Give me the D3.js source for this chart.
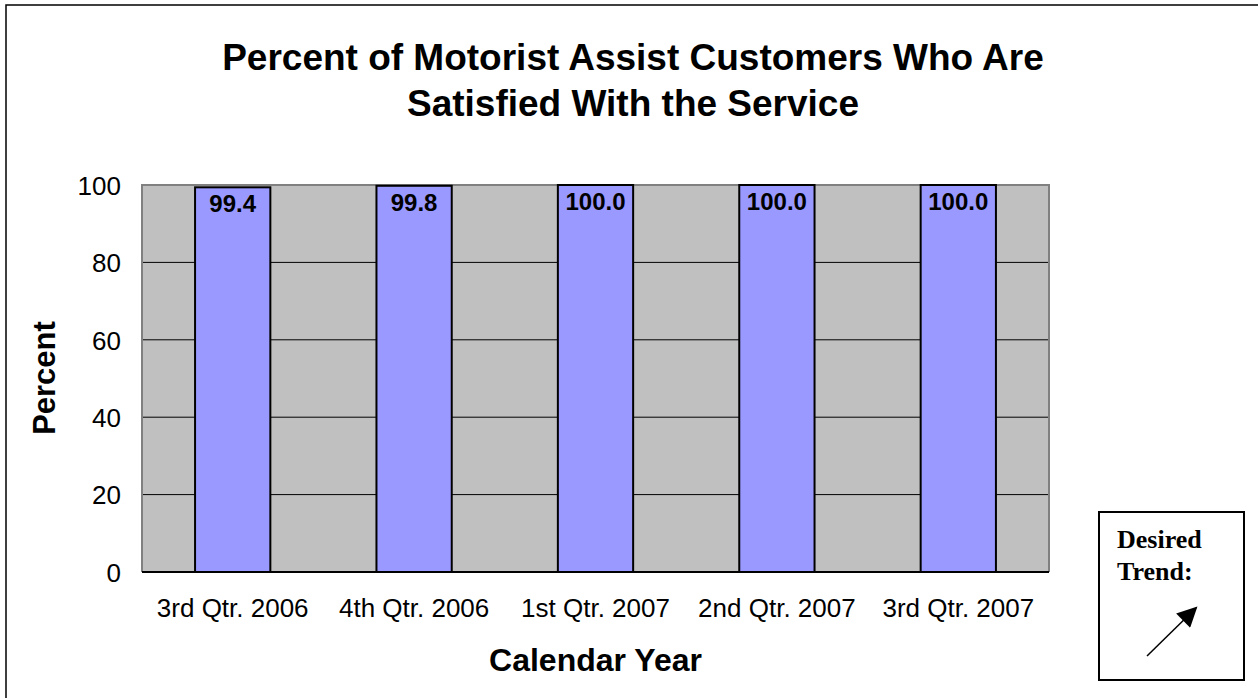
<!DOCTYPE html>
<head>
  <meta charset="utf-8">
  <script src="https://d3js.org/d3.v7.min.js"></script>
  <style>
    body {
      margin: 0;
      background-color: #fff;
    }
    text {
      font-family: Arial, "Liberation Sans", sans-serif;
      fill: #000;
    }
    .trend text {
      font-family: "Times New Roman", "Liberation Serif", serif;
      font-weight: bold;
    }
  </style>
</head>

<body>
  <script>
    // Chart data
    var quarters = ["3rd Qtr. 2006", "4th Qtr. 2006", "1st Qtr. 2007", "2nd Qtr. 2007", "3rd Qtr. 2007"];
    var satisfied = [99.4, 99.8, 100.0, 100.0, 100.0];
    var yTicks = [0, 20, 40, 60, 80, 100];
    var titleLines = ["Percent of Motorist Assist Customers Who Are", "Satisfied With the Service"];

    // Layout
    var width = 1258,
        height = 698;
    var plot = { left: 142, right: 1049, top: 185, bottom: 572 };

    var svg = d3.select("body").append("svg")
      .attr("width", width)
      .attr("height", height);

    // outer frame (only left and top edges are visible)
    svg.append("rect")
      .attr("x", 6).attr("y", 5)
      .attr("width", 1300).attr("height", 720)
      .attr("fill", "none")
      .attr("stroke", "#000")
      .attr("stroke-width", 1.5);

    // title
    svg.append("g").selectAll("text")
      .data(titleLines).enter()
      .append("text")
      .attr("x", 633)
      .attr("y", function(d, i) { return 70 + i * 46; })
      .attr("text-anchor", "middle")
      .style("font-size", "37px")
      .style("font-weight", "bold")
      .text(function(d) { return d; });

    // scales
    var x = d3.scaleBand()
      .domain(quarters)
      .range([plot.left, plot.right])
      .paddingInner(0.585)
      .paddingOuter(0.2925);

    var y = d3.scaleLinear()
      .domain([0, 100])
      .range([plot.bottom, plot.top]);

    // plot area
    svg.append("rect")
      .attr("x", plot.left).attr("y", plot.top)
      .attr("width", plot.right - plot.left)
      .attr("height", plot.bottom - plot.top)
      .attr("fill", "#c0c0c0");

    // gridlines
    svg.append("g").selectAll("line")
      .data(yTicks.filter(function(d) { return d > 0 && d < 100; })).enter()
      .append("line")
      .attr("x1", plot.left).attr("x2", plot.right)
      .attr("y1", function(d) { return y(d); })
      .attr("y2", function(d) { return y(d); })
      .attr("stroke", "#000")
      .attr("stroke-width", 1);

    // plot border: gray top/right/left
    svg.append("path")
      .attr("d", "M" + plot.left + "," + plot.bottom + "V" + plot.top + "H" + plot.right + "V" + plot.bottom)
      .attr("fill", "none")
      .attr("stroke", "#808080")
      .attr("stroke-width", 2);

    // bars
    svg.append("g").selectAll("rect")
      .data(satisfied).enter()
      .append("rect")
      .attr("x", function(d, i) { return x(quarters[i]); })
      .attr("y", function(d) { return y(d); })
      .attr("width", x.bandwidth())
      .attr("height", function(d) { return y(0) - y(d); })
      .attr("fill", "#9999ff")
      .attr("stroke", "#000")
      .attr("stroke-width", 2);

    // value labels
    svg.append("g").selectAll("text")
      .data(satisfied).enter()
      .append("text")
      .attr("x", function(d, i) { return x(quarters[i]) + x.bandwidth() / 2; })
      .attr("y", function(d) { return y(d) + 25; })
      .attr("text-anchor", "middle")
      .style("font-size", "24px")
      .style("font-weight", "bold")
      .text(function(d) { return d.toFixed(1); });

    // x axis baseline
    svg.append("line")
      .attr("x1", plot.left).attr("x2", plot.right)
      .attr("y1", y(0)).attr("y2", y(0))
      .attr("stroke", "#000")
      .attr("stroke-width", 2);

    // y axis
    var yAxis = svg.append("g")
      .attr("transform", "translate(" + plot.left + ",0)")
      .call(d3.axisLeft(y).tickValues(yTicks).tickSize(0).tickPadding(21));
    yAxis.select(".domain").remove();
    yAxis.selectAll("text")
      .style("font-size", "26px")
      .style("font-family", "Arial, 'Liberation Sans', sans-serif")
      .attr("dy", "0.36em");

    // x axis labels
    var xAxis = svg.append("g")
      .attr("transform", "translate(0," + plot.bottom + ")")
      .call(d3.axisBottom(x).tickSize(0).tickPadding(27));
    xAxis.select(".domain").remove();
    xAxis.selectAll("text")
      .style("font-size", "26px")
      .style("font-family", "Arial, 'Liberation Sans', sans-serif");

    // axis titles
    svg.append("text")
      .attr("x", (plot.left + plot.right) / 2)
      .attr("y", 671)
      .attr("text-anchor", "middle")
      .style("font-size", "32px")
      .style("font-weight", "bold")
      .text("Calendar Year");

    svg.append("text")
      .attr("transform", "translate(55,378) rotate(-90)")
      .attr("text-anchor", "middle")
      .style("font-size", "31px")
      .style("font-weight", "bold")
      .text("Percent");

    // desired trend box
    var trend = svg.append("g").attr("class", "trend");
    trend.append("rect")
      .attr("x", 1099).attr("y", 512)
      .attr("width", 145).attr("height", 168)
      .attr("fill", "#fff")
      .attr("stroke", "#000")
      .attr("stroke-width", 2);
    trend.append("text").attr("x", 1117).attr("y", 548)
      .style("font-size", "26px").text("Desired");
    trend.append("text").attr("x", 1117).attr("y", 580)
      .style("font-size", "26px").text("Trend:");

    svg.append("defs").append("marker")
      .attr("id", "arrow")
      .attr("viewBox", "0 0 10 10")
      .attr("refX", 9).attr("refY", 5)
      .attr("markerWidth", 24).attr("markerHeight", 20)
      .attr("markerUnits", "userSpaceOnUse")
      .attr("orient", "auto")
      .append("path")
      .attr("d", "M0,0L10,5L0,10Z")
      .attr("fill", "#000");
    trend.append("line")
      .attr("x1", 1147).attr("y1", 656)
      .attr("x2", 1196).attr("y2", 608)
      .attr("stroke", "#000")
      .attr("stroke-width", 1.5)
      .attr("marker-end", "url(#arrow)");
  </script>
</body>
